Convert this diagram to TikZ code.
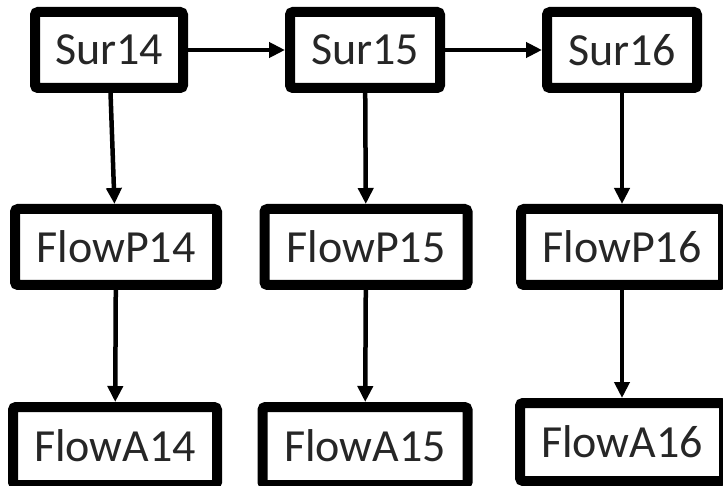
\documentclass[tikz,border=0pt]{standalone}
\usepackage{fontspec}
\setmainfont{Carlito}
\usepackage{tikz}
\usetikzlibrary{arrows.meta}

\begin{document}
\begin{tikzpicture}[x=1pt, y=-1pt,
	box/.style = {draw, line width = 10pt, rounded corners = 3pt, fill = white,
		minimum height = 76pt, inner sep = 0pt, text = black!85,
		font = \fontsize{46}{50}\selectfont},
	link/.style = {line width = 4.5pt, -{Triangle[length=16pt, width=15pt]}}]

	\useasboundingbox (0,0) rectangle (723,486);

	\node[box, minimum width = 148pt] (sur14) at (109,50) {Sur14};
	\node[box, minimum width = 150pt] (sur15) at (365,50) {Sur15};
	\node[box, minimum width = 150pt] (sur16) at (622,50) {Sur16};

	\node[box, minimum width = 202pt] (flowp14) at (116,247) {FlowP14};
	\node[box, minimum width = 203pt] (flowp15) at (366,247) {FlowP15};
	\node[box, minimum width = 202pt] (flowp16) at (622,247) {FlowP16};

	\node[box, minimum width = 204pt, minimum height = 78pt] (flowa14) at (115,446) {FlowA14};
	\node[box, minimum width = 205pt, minimum height = 78pt] (flowa15) at (365,446) {FlowA15};
	\node[box, minimum width = 204pt, minimum height = 78pt] (flowa16) at (622,442) {FlowA16};

	\draw[link] (sur14) -- (sur15);
	\draw[link] (sur15) -- (sur16);

	\draw[link] (sur14) -- (flowp14);
	\draw[link] (sur15) -- (flowp15);
	\draw[link] (sur16) -- (flowp16);

	\draw[link] (flowp14) -- (flowa14);
	\draw[link] (flowp15) -- (flowa15);
	\draw[link] (flowp16) -- (flowa16);
\end{tikzpicture}
\end{document}
